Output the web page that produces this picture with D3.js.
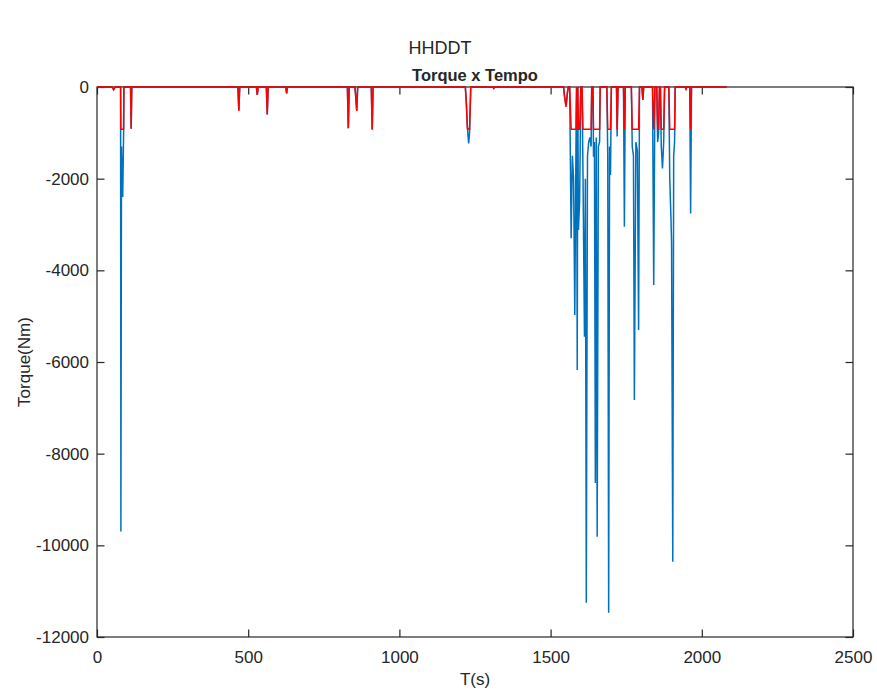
<!DOCTYPE html>
<html>
<head>
<meta charset="utf-8">
<script src="https://cdn.jsdelivr.net/npm/d3@7"></script>
<style>
  body { margin: 0; background: #fff; }
  text { font-family: "Liberation Sans", Arial, sans-serif; fill: #262626; }
</style>
</head>
<body>
<div id="container"></div>
<script>
/* DATA */
// time (s) and torque (Nm)
const timeS = [
  0, 50, 55, 60, 78, 79, 81, 83, 85, 88, 89, 111, 113, 115,
  466, 469, 472, 527, 530, 533, 560, 563, 566, 624, 627, 630,
  828, 831, 834, 853, 856, 859, 862, 907, 910, 913,
  1218, 1221, 1225, 1229, 1232, 1236, 1309, 1312, 1315,
  1543, 1546, 1551, 1556, 1559,
  1563, 1568, 1572, 1576, 1580, 1584, 1586, 1588, 1590, 1592, 1596, 1600,
  1604, 1607, 1612, 1615, 1618, 1622, 1626, 1630, 1634, 1636,
  1640, 1642, 1645, 1648, 1651, 1654, 1658, 1662, 1664,
  1686, 1689, 1692, 1695, 1698, 1701,
  1718, 1720, 1723, 1741, 1744, 1747,
  1767, 1770, 1774, 1777, 1782, 1787, 1791, 1794,
  1802, 1805, 1808,
  1837, 1841, 1845, 1851, 1854, 1857, 1860, 1863, 1866, 1870, 1874, 1877,
  1891, 1894, 1898, 1900, 1904, 1907, 1910, 1912,
  1946, 1948, 1950, 1960, 1963, 1966, 2082
];
const torqueNm = [
  0, 0, -60, 0, 0, -9700, -1300, -1950, -2400, -1000, 0, 0, -910, 0,
  0, -520, 0, 0, -175, 0, 0, -600, 0, 0, -140, 0,
  0, -900, 0, 0, -250, -520, 0, 0, -930, 0,
  0, -300, -900, -1230, -1000, 0, 0, -30, 0,
  0, -200, -430, -100, 0,
  0, -3300, -1500, -2000, -4975, -1200, 0, -6175, 0, -3120, -2500, 0,
  0, -1800, -5450, -2000, -11250, -1500, -1200, -1100, -1300, 0,
  0, -1520, -1200, -8640, -1100, -9810, -1300, -1200, 0,
  0, -1500, -11470, -1300, -1920, 0,
  0, -1080, 0, 0, -3050, 0,
  0, -1300, -1500, -6830, -1200, -1400, -5300, 0,
  0, -280, 0,
  0, -4320, 0, 0, -1200, -1025, 0, 0, -1300, -1775, -1200, 0,
  0, -2000, -2860, -3400, -10360, -1500, -1200, 0,
  0, -40, 0, 0, -2760, 0, 0
];
// limited (regenerative) torque drawn in red
const torqueLimit = -920;

const xTicks = [0, 500, 1000, 1500, 2000, 2500];
const yTicks = [0, -2000, -4000, -6000, -8000, -10000, -12000];

/* CONSTANTS */
const width = 877, height = 696,
  margin = { top: 87, bottom: 59, left: 97, right: 24 },
  colors = { torque: '#0072BD', limited: '#FF0000', axis: '#262626' };

const full = timeS.map((t, i) => ({ t: t, v: torqueNm[i] }));
const limited = full.map(d => ({ t: d.t, v: Math.max(d.v, torqueLimit) }));

const svg = d3.select("#container")
  .append("svg")
  .attr("width", width)
  .attr("height", height);

/* SCALES */
const xScale = d3.scaleLinear()
  .domain([0, 2500])
  .range([margin.left, width - margin.right]);

const yScale = d3.scaleLinear()
  .domain([-12000, 0])
  .range([height - margin.bottom, margin.top]);

const line = d3.line()
  .x(d => xScale(d.t))
  .y(d => yScale(d.v));

svg.append("path")
  .datum(full)
  .attr("d", line)
  .attr("fill", "none")
  .attr("stroke", colors.torque)
  .attr("stroke-width", 1.5);

// axes box
const x0 = xScale(0), x1 = xScale(2500), y0 = yScale(-12000), y1 = yScale(0);
svg.append("rect")
  .attr("x", x0).attr("y", y1)
  .attr("width", x1 - x0).attr("height", y0 - y1)
  .attr("fill", "none")
  .attr("stroke", colors.axis)
  .attr("stroke-width", 1.2);

const fmt = d => String(d);

const xAxis = d3.axisBottom(xScale).tickValues(xTicks).tickSizeInner(-7.5).tickSizeOuter(0).tickPadding(14).tickFormat(fmt);
const gx = svg.append("g")
  .attr("transform", `translate(0,${y0})`)
  .call(xAxis);
const xTop = d3.axisTop(xScale).tickValues(xTicks).tickSizeInner(-7.5).tickSizeOuter(0).tickFormat("");
const gxt = svg.append("g")
  .attr("transform", `translate(0,${y1})`)
  .call(xTop);

const yAxis = d3.axisLeft(yScale).tickValues(yTicks).tickSizeInner(-7.5).tickSizeOuter(0).tickPadding(8).tickFormat(fmt);
const gy = svg.append("g")
  .attr("transform", `translate(${x0},0)`)
  .call(yAxis);
const yRight = d3.axisRight(yScale).tickValues(yTicks).tickSizeInner(-7.5).tickSizeOuter(0).tickFormat("");
const gyr = svg.append("g")
  .attr("transform", `translate(${x1},0)`)
  .call(yRight);

[gx, gxt, gy, gyr].forEach(g => {
  g.select(".domain").remove();
  g.selectAll("line").attr("stroke", colors.axis).attr("stroke-width", 1.2);
  g.selectAll("text")
    .attr("font-family", "Liberation Sans, Arial, sans-serif")
    .attr("font-size", "17px")
    .attr("fill", colors.axis);
});

// red series on top
svg.append("path")
  .datum(limited)
  .attr("d", line)
  .attr("fill", "none")
  .attr("stroke", colors.limited)
  .attr("stroke-width", 1.5);

/* LABELS */
svg.append("text")
  .attr("x", 440).attr("y", 54)
  .attr("text-anchor", "middle")
  .attr("font-size", "18px")
  .text("HHDDT");

svg.append("text")
  .attr("x", (x0 + x1) / 2).attr("y", 81)
  .attr("text-anchor", "middle")
  .attr("font-size", "16.5px")
  .attr("font-weight", "bold")
  .attr("fill", "#000")
  .text("Torque x Tempo");

svg.append("text")
  .attr("x", (x0 + x1) / 2).attr("y", 685)
  .attr("text-anchor", "middle")
  .attr("font-size", "17px")
  .text("T(s)");

svg.append("text")
  .attr("transform", `translate(30,${(y0 + y1) / 2}) rotate(-90)`)
  .attr("text-anchor", "middle")
  .attr("font-size", "17px")
  .text("Torque(Nm)");
</script>
</body>
</html>
